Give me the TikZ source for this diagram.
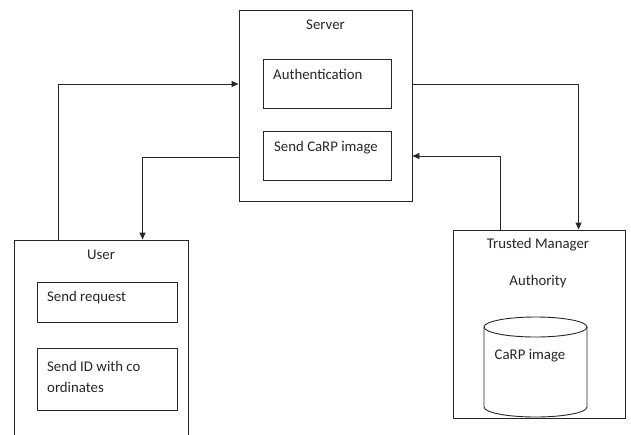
\documentclass[tikz,border=0pt]{standalone}
\usepackage{fontspec}
\setmainfont{Carlito}
\usetikzlibrary{arrows.meta,calc}
\begin{document}
\begin{tikzpicture}[x=1pt,y=-1pt,
  box/.style={draw=black!85,line width=0.9pt,inner sep=0pt},
  lbl/.style={inner sep=0pt,text=black!85,font=\fontsize{14.8}{21}\selectfont},
  arr/.style={draw=black!85,line width=0.9pt,-{Triangle[length=7pt,width=6pt]}}]
\useasboundingbox (0,0) rectangle (631,434);
\begin{scope}
\clip (0,0) rectangle (631,434);
% Server
\node[box,minimum width=173pt,minimum height=191pt] (Server) at (325.5,105.5) {};
\node[lbl] (ServerL) at (325.5,25) {Server};
\node[box,minimum width=128pt,minimum height=49pt] (Auth) at (327,83.5) {};
\node[lbl,anchor=west] (AuthL) at (273,74) {Authentication};
\node[box,minimum width=128pt,minimum height=49pt] (Send) at (327,155.5) {};
\node[lbl,anchor=west] (SendL) at (274,148) {Send CaRP image};
% User
\node[box,minimum width=174pt,minimum height=220pt] (User) at (101,350) {};
\node[lbl] (UserL) at (101,255) {User};
\node[box,minimum width=140pt,minimum height=40pt] (Req) at (107,302) {};
\node[lbl,anchor=west] (ReqL) at (47,298) {Send request};
\node[box,minimum width=140pt,minimum height=62pt] (ID) at (107,379) {};
\node[lbl,anchor=west,align=left] (IDL) at (47,376.5) {Send ID with co\\ordinates};
% Trusted Manager
\node[box,minimum width=172pt,minimum height=188pt] (TM) at (539,324) {};
\node[lbl] (TML) at (538,245) {Trusted Manager};
\node[lbl] (AuthorityL) at (538,282) {Authority};
% cylinder
\draw[draw=black!85,line width=0.9pt] (535.5,327) ellipse [x radius=51.5,y radius=10];
\draw[draw=black!85,line width=0.9pt] (484,327) -- (484,407) arc[start angle=180,end angle=0,x radius=51.5,y radius=10] -- (587,327);
\node[lbl] (CylL) at (530,356) {CaRP image};
% connectors
\draw[arr] ($(User.north west)+(45,0)$) |- ($(Server.west)+(0,-21.5)$);
\draw[arr] ($(Server.west)+(0,51.5)$) -| ($(User.north west)+(129,0)$);
\draw[arr] ($(Server.east)+(0,-21.5)$) -| ($(TM.north west)+(126,0)$);
\draw[arr] ($(TM.north west)+(48,0)$) |- ($(Server.east)+(0,50.5)$);
\end{scope}
\end{tikzpicture}
\end{document}
